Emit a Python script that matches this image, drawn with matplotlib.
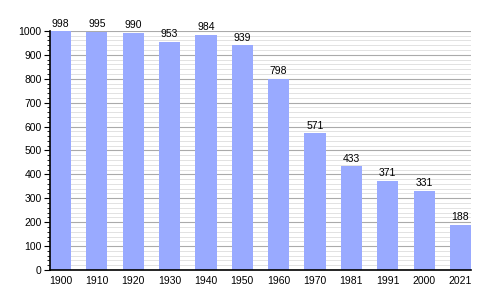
import matplotlib
matplotlib.use("Agg")
import matplotlib.pyplot as plt
from matplotlib.ticker import MultipleLocator

years = ["1900", "1910", "1920", "1930", "1940", "1950", "1960",
         "1970", "1981", "1991", "2000", "2021"]
population = [998, 995, 990, 953, 984, 939, 798, 571, 433, 371, 331, 188]

fig = plt.figure(figsize=(5, 3), dpi=100)
ax = fig.add_axes([0.1, 0.1, 0.842, 0.797])

x = range(len(years))
bars = ax.bar(x, population, width=0.58, color="#99aaff", zorder=2)
for rect, val in zip(bars, population):
    ax.text(rect.get_x() + rect.get_width() / 2, val + 12, str(val),
            ha="center", va="bottom", fontsize=7.5, family="Liberation Sans")

ax.set_xlim(-0.29, len(years) - 0.71)
ax.set_ylim(0, 1000)
ax.set_xticks(list(x))
ax.set_xticklabels(years)
ax.yaxis.set_major_locator(MultipleLocator(100))
ax.yaxis.set_minor_locator(MultipleLocator(20))

ax.grid(axis="y", which="major", color="#aaaaaa", lw=0.8, zorder=0)
ax.grid(axis="y", which="minor", color="#dddddd", lw=0.6, zorder=0)
ax.set_axisbelow(True)

for side in ("top", "right"):
    ax.spines[side].set_visible(False)
ax.spines["left"].set_linewidth(1.2)
ax.spines["bottom"].set_linewidth(1.2)

ax.tick_params(axis="x", length=0, labelsize=7.5, pad=4)
ax.tick_params(axis="y", which="major", length=4, labelsize=7.5, pad=2)
ax.tick_params(axis="y", which="minor", length=2)
for lbl in ax.get_xticklabels() + ax.get_yticklabels():
    lbl.set_family("Liberation Sans")

fig.savefig("out.png", dpi=100)
